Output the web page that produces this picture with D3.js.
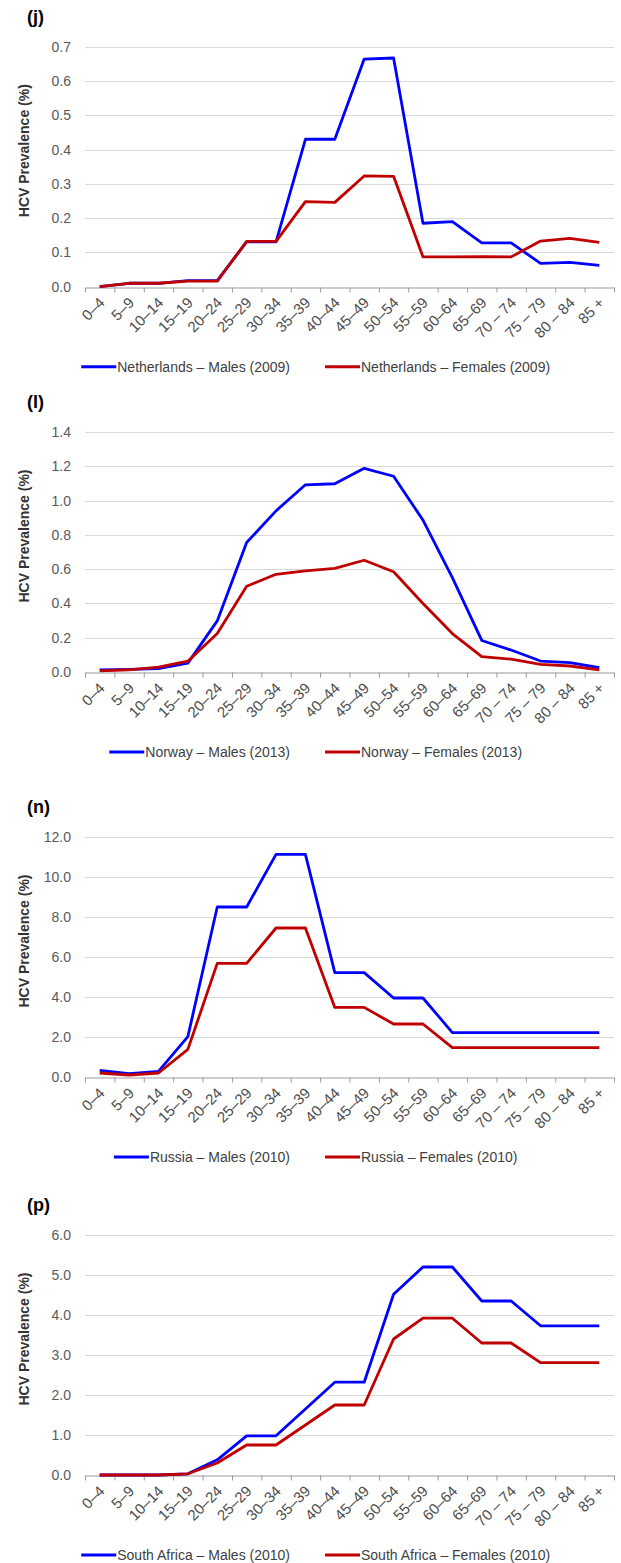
<!DOCTYPE html>
<html>
<head>
<meta charset="utf-8">
<title>HCV prevalence by age group</title>
<style>
    body { margin: 0; background: #fff; }
    svg { font-family: "Liberation Sans", Arial, sans-serif; }
    .grid line { stroke: #d9d9d9; stroke-width: 1px; }
    .yaxis text { fill: #595959; font-size: 14px; }
    .xaxis path, .xaxis line { stroke: #9a9a9a; stroke-width: 1px; }
    .xlabel { fill: #4d4d4d; font-size: 15px; }
    .ytitle { fill: #333; font-size: 14px; font-weight: bold; }
    .tag { fill: #000; font-size: 18px; font-weight: bold; }
    .legend text { fill: #404040; font-size: 14px; }
    .series { fill: none; stroke-width: 2.8px; stroke-linejoin: round; }
</style>
</head>
<body>
<script src="https://cdn.jsdelivr.net/npm/d3@7"></script>
<script>

// age groups (x categories)
var ageGroups = ["0–4", "5–9", "10–14", "15–19", "20–24", "25–29", "30–34", "35–39", "40–44",
                 "45–49", "50–54", "55–59", "60–64", "65–69", "70 – 74", "75 – 79", "80 – 84", "85 +"];

// (j) Netherlands 2009
var nlMales   = [0.000, 0.010, 0.010, 0.018, 0.018, 0.131, 0.131, 0.430, 0.430, 0.664, 0.667, 0.185, 0.190, 0.128, 0.128, 0.068, 0.071, 0.062];
var nlFemales = [0.000, 0.010, 0.010, 0.016, 0.016, 0.132, 0.132, 0.248, 0.246, 0.323, 0.322, 0.087, 0.087, 0.088, 0.087, 0.133, 0.141, 0.129];
var nlTicks   = [0, 0.1, 0.2, 0.3, 0.4, 0.5, 0.6, 0.7];

// (l) Norway 2013
var noMales   = [0.012, 0.015, 0.020, 0.052, 0.298, 0.755, 0.940, 1.092, 1.098, 1.188, 1.142, 0.886, 0.550, 0.184, 0.128, 0.064, 0.055, 0.025];
var noFemales = [0.006, 0.013, 0.028, 0.063, 0.225, 0.500, 0.570, 0.590, 0.605, 0.652, 0.585, 0.400, 0.224, 0.090, 0.075, 0.045, 0.035, 0.012];
var noTicks   = [0, 0.2, 0.4, 0.6, 0.8, 1.0, 1.2, 1.4];

// (n) Russia 2010
var ruMales   = [0.33, 0.17, 0.28, 2.02, 8.50, 8.50, 11.13, 11.13, 5.22, 5.22, 3.95, 3.95, 2.22, 2.22, 2.22, 2.22, 2.22, 2.22];
var ruFemales = [0.20, 0.10, 0.20, 1.38, 5.68, 5.68, 7.45, 7.45, 3.48, 3.48, 2.65, 2.65, 1.47, 1.47, 1.47, 1.47, 1.47, 1.47];
var ruTicks   = [0, 2, 4, 6, 8, 10, 12];

// (p) South Africa 2010
var zaMales   = [0.00, 0.00, 0.00, 0.03, 0.38, 0.98, 0.98, 1.65, 2.32, 2.32, 4.52, 5.20, 5.20, 4.35, 4.35, 3.73, 3.73, 3.73];
var zaFemales = [0.00, 0.00, 0.00, 0.03, 0.30, 0.75, 0.75, 1.25, 1.75, 1.75, 3.40, 3.92, 3.92, 3.30, 3.30, 2.81, 2.81, 2.81];
var zaTicks   = [0, 1, 2, 3, 4, 5, 6];

var tags = ["(j)", "(l)", "(n)", "(p)"];
var maleNames   = ["Netherlands – Males (2009)", "Norway – Males (2013)", "Russia – Males (2010)", "South Africa – Males (2010)"];
var femaleNames = ["Netherlands – Females (2009)", "Norway – Females (2013)", "Russia – Females (2010)", "South Africa – Females (2010)"];

var SVGwidth = 621, SVGheight = 1563;
var xLeft = 85, xRight = 614, plotH = 240;
var tops = [46.7, 432, 837, 1235];
var blue = "#0000ff", red = "#c00000";

var svg = d3.select("body").append("svg")
        .attr("width", SVGwidth)
        .attr("height", SVGheight);

var x = d3.scaleBand().domain(ageGroups).range([xLeft, xRight]).padding(0);
var xIdx = d3.scaleLinear().domain([0, ageGroups.length]).range([xLeft, xRight]);

var panels = [
    {males: nlMales, females: nlFemales, ticks: nlTicks},
    {males: noMales, females: noFemales, ticks: noTicks},
    {males: ruMales, females: ruFemales, ticks: ruTicks},
    {males: zaMales, females: zaFemales, ticks: zaTicks}
];

panels.forEach(function(p, k) {
    var top = tops[k], bottom = top + plotH;
    var g = svg.append("g");
    var y = d3.scaleLinear().domain([0, d3.max(p.ticks)]).range([bottom, top]);

    // gridlines
    g.append("g").attr("class", "grid")
        .selectAll("line")
        .data(p.ticks.filter(function(t) { return t > 0; }))
        .enter().append("line")
        .attr("x1", xLeft).attr("x2", xRight)
        .attr("y1", function(d) { return Math.round(y(d)) + 0.5; })
        .attr("y2", function(d) { return Math.round(y(d)) + 0.5; });

    // y tick labels
    g.append("g").attr("class", "yaxis")
        .attr("transform", "translate(" + xLeft + ",0)")
        .call(d3.axisLeft(y).tickValues(p.ticks).tickFormat(d3.format(".1f")).tickSize(0).tickPadding(14))
        .call(function(s) { s.select(".domain").remove(); })
        .selectAll("text").attr("fill", null).attr("font-family", null).attr("font-size", null);

    // x axis with ticks at band boundaries
    g.append("g").attr("class", "xaxis")
        .attr("transform", "translate(0," + (Math.round(bottom) + 0.5) + ")")
        .call(d3.axisBottom(xIdx).tickValues(d3.range(ageGroups.length + 1)).tickFormat("").tickSize(5).tickSizeOuter(0))
        .selectAll("line,path").attr("stroke", null);

    // rotated category labels
    g.selectAll(".xlabel")
        .data(ageGroups)
        .enter().append("text")
        .attr("class", "xlabel")
        .attr("text-anchor", "end")
        .attr("transform", function(d) {
            return "translate(" + (x(d) + x.bandwidth() / 2 + 6) + "," + (bottom + 17) + ") rotate(-45)";
        })
        .text(function(d) { return d; });

    // series lines
    var line = d3.line()
        .x(function(d, i) { return x(ageGroups[i]) + x.bandwidth() / 2; })
        .y(function(d) { return y(d); });

    g.append("path").attr("class", "series").attr("stroke", blue).attr("d", line(p.males));
    g.append("path").attr("class", "series").attr("stroke", red).attr("d", line(p.females));

    // panel tag
    g.append("text").attr("class", "tag")
        .attr("x", 27).attr("y", top - 24)
        .text(tags[k]);

    // y title
    g.append("text").attr("class", "ytitle")
        .attr("text-anchor", "middle")
        .attr("transform", "translate(29," + (top + plotH / 2 - 16) + ") rotate(-90)")
        .text("HCV Prevalence (%)");

    // legend
    var ly = bottom + 80;
    var leg = g.append("g").attr("class", "legend");
    var mt = leg.append("text")
        .attr("text-anchor", "end")
        .attr("x", 290).attr("y", ly).attr("dy", "0.35em")
        .text(maleNames[k]);
    var mw = mt.node().getComputedTextLength();
    leg.append("line")
        .attr("x1", 290 - mw - 36).attr("x2", 290 - mw - 1)
        .attr("y1", ly).attr("y2", ly)
        .attr("stroke", blue).attr("stroke-width", 3);
    leg.append("line")
        .attr("x1", 325).attr("x2", 360)
        .attr("y1", ly).attr("y2", ly)
        .attr("stroke", red).attr("stroke-width", 3);
    leg.append("text")
        .attr("x", 361).attr("y", ly).attr("dy", "0.35em")
        .text(femaleNames[k]);
});

</script>
</body>
</html>
